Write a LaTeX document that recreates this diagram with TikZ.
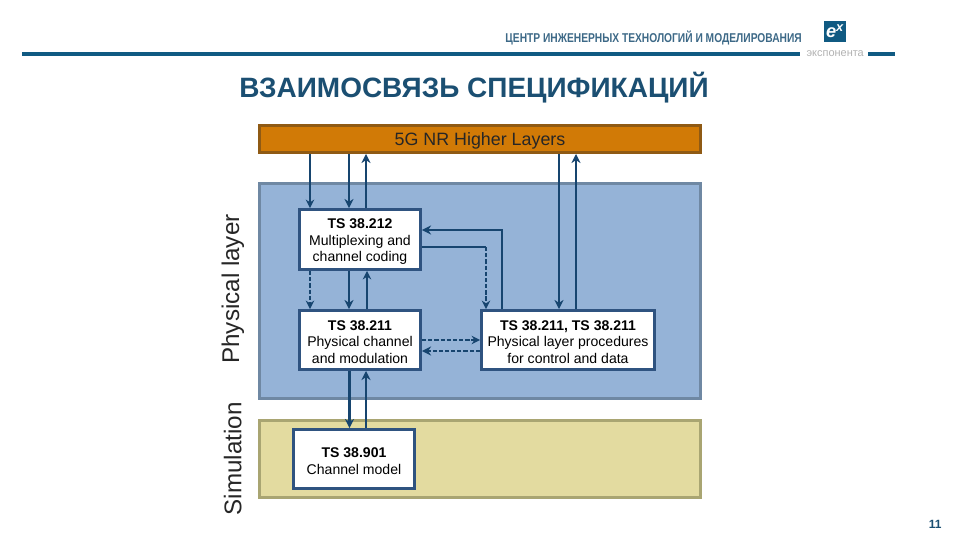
\documentclass[tikz,border=0pt]{standalone}
\usepackage{fontspec}
\setmainfont{Liberation Sans}
\newfontfamily\headfont[FakeStretch=0.8]{Liberation Sans}
\usetikzlibrary{arrows.meta, positioning, calc}

\definecolor{rulecol}{HTML}{105A82}
\definecolor{titlecol}{HTML}{1B4F72}
\definecolor{higherfill}{HTML}{D17A06}
\definecolor{higherline}{HTML}{8F5A14}
\definecolor{phyfill}{HTML}{95B3D7}
\definecolor{phyline}{HTML}{6F88A3}
\definecolor{simfill}{HTML}{E3DBA0}
\definecolor{simline}{HTML}{A9A572}
\definecolor{boxline}{HTML}{2F5380}
\definecolor{linkcol}{HTML}{17456F}

\newcommand{\spechead}[1]{\rule{0pt}{10pt}\textbf{#1}}

\begin{document}
\begin{tikzpicture}[
    panel/.style={draw, line width=2.1pt, minimum width=11.02cm, inner sep=0pt},
    specbox/.style={draw=boxline, line width=2.1pt, fill=white, inner sep=0pt,
                    minimum width=3.025cm, minimum height=1.475cm, align=center,
                    font=\fontsize{10}{12}\selectfont},
    sidelabel/.style={rotate=90, font=\fontsize{17.2}{18}\selectfont, text=black!85},
    link/.style={-{Stealth[length=6.5pt, width=6.5pt]}, linkcol, line width=2.1pt},
    linkthin/.style={-{Stealth[length=6pt, width=6pt]}, linkcol, line width=1.6pt},
    dashlink/.style={dash pattern=on 3pt off 1.4pt},
    plain/.style={linkcol, line width=2.1pt},
]
\useasboundingbox (0, 0) rectangle (24, 13.5);

% ===================== HEADER =====================
\draw[rulecol, line width=2.9pt] (0.55, 12.15) -- (20, 12.15);
\draw[rulecol, line width=2.9pt] (21.7, 12.15) -- (22.38, 12.15);
\node[font=\headfont\fontsize{9.1}{11}\selectfont\bfseries, text=titlecol!85] (center) at (16.34, 12.55)
    {ЦЕНТР ИНЖЕНЕРНЫХ ТЕХНОЛОГИЙ И МОДЕЛИРОВАНИЯ};
\node[fill=rulecol, minimum width=0.55cm, minimum height=0.53cm, inner sep=0pt,
      text=white, font=\fontsize{13}{13}\selectfont\bfseries\itshape] (logo) at (20.875, 12.71) {e\textsuperscript{x}};
\node[font=\fontsize{7.8}{8}\selectfont, text=gray!60, inner sep=0pt] (logotext) at (20.88, 12.16) {экспонента};

\node[font=\fontsize{19.9}{22}\selectfont\bfseries, text=titlecol] (title) at (11.85, 11.32)
    {ВЗАИМОСВЯЗЬ СПЕЦИФИКАЦИЙ};

% ===================== LAYERS =====================
\node[panel, draw=higherline, fill=higherfill, minimum height=0.675cm, text depth=0pt,
      font=\fontsize{12.7}{14}\selectfont, text=black!85] (Higher) at (12, 10.025) {5G NR Higher Layers};
\node[panel, draw=phyline, fill=phyfill, minimum height=5.375cm] (PhyLayer) at (12, 6.225) {};
\node[panel, draw=simline, fill=simfill, minimum height=1.925cm] (SimLayer) at (12, 2.025) {};

\node[sidelabel] (PhyLabel) at (5.82, 6.275) {Physical layer};
\node[sidelabel] (SimLabel) at (5.82, 2.03) {Simulation};

% ===================== SPECIFICATIONS =====================
\node[specbox, minimum height=1.5cm] (TS212) at (9, 7.5125)
    {\spechead{TS 38.212}\\Multiplexing and\\channel coding};
\node[specbox] (TS211) at (9, 5)
    {\spechead{TS 38.211}\\Physical channel\\and modulation};
\node[specbox, minimum width=4.325cm] (TSProc) at (14.2, 5)
    {\spechead{TS 38.211, TS 38.211}\\Physical layer procedures\\for control and data};
\node[specbox, minimum width=3.025cm] (TS901) at (8.85, 2.025)
    {\spechead{TS 38.901}\\Channel model};

% ===================== LINKS =====================

% Higher layers and TS 38.212
\draw[linkthin] ([xshift=-1.25cm]TS212.north |- Higher.south) -- ([xshift=-1.25cm]TS212.north);
\draw[link] ([xshift=-0.275cm]TS212.north |- Higher.south) -- ([xshift=-0.275cm]TS212.north);
\draw[link] ([xshift=0.15cm]TS212.north) -- ([xshift=0.15cm]TS212.north |- Higher.south);

% Higher layers and procedures
\draw[link] ([xshift=-0.225cm]TSProc.north |- Higher.south) -- ([xshift=-0.225cm]TSProc.north);
\draw[link] ([xshift=0.2cm]TSProc.north) -- ([xshift=0.2cm]TSProc.north |- Higher.south);

% TS 38.212 and TS 38.211
\draw[linkthin, dashlink] ([xshift=-1.25cm]TS212.south) -- ([xshift=-1.25cm]TS211.north);
\draw[link] ([xshift=-0.275cm]TS212.south) -- ([xshift=-0.275cm]TS211.north);
\draw[linkthin] ([xshift=0.175cm]TS211.north) -- ([xshift=0.175cm]TS212.south);

% TS 38.212 and procedures
\draw[link] ([xshift=-1.65cm]TSProc.north) |- ([yshift=0.2375cm]TS212.east);
\coordinate (Out212) at ([yshift=-0.1875cm]TS212.east);
\coordinate (InProc) at ([xshift=-2.05cm]TSProc.north);
\draw[plain] (Out212) -- (Out212 -| InProc);
\draw[linkthin, dashlink] (Out212 -| InProc) -- (InProc);

% TS 38.211 and procedures
\draw[linkthin, dashlink] (TS211.east) -- (TSProc.west);
\draw[link, dashlink] ([yshift=-0.275cm]TSProc.west) -- ([yshift=-0.275cm]TS211.east);

% TS 38.211 and TS 38.901
\draw[link] ([xshift=-0.1125cm]TS901.north |- TS211.south) -- ([xshift=-0.1125cm]TS901.north);
\draw[link] ([xshift=0.3cm]TS901.north) -- ([xshift=0.3cm]TS901.north |- TS211.south);

% ===================== PAGE NUMBER =====================
\node[font=\fontsize{8.5}{10}\selectfont\bfseries, text=titlecol] (page) at (23.38, 0.38) {11};

\end{tikzpicture}
\end{document}
